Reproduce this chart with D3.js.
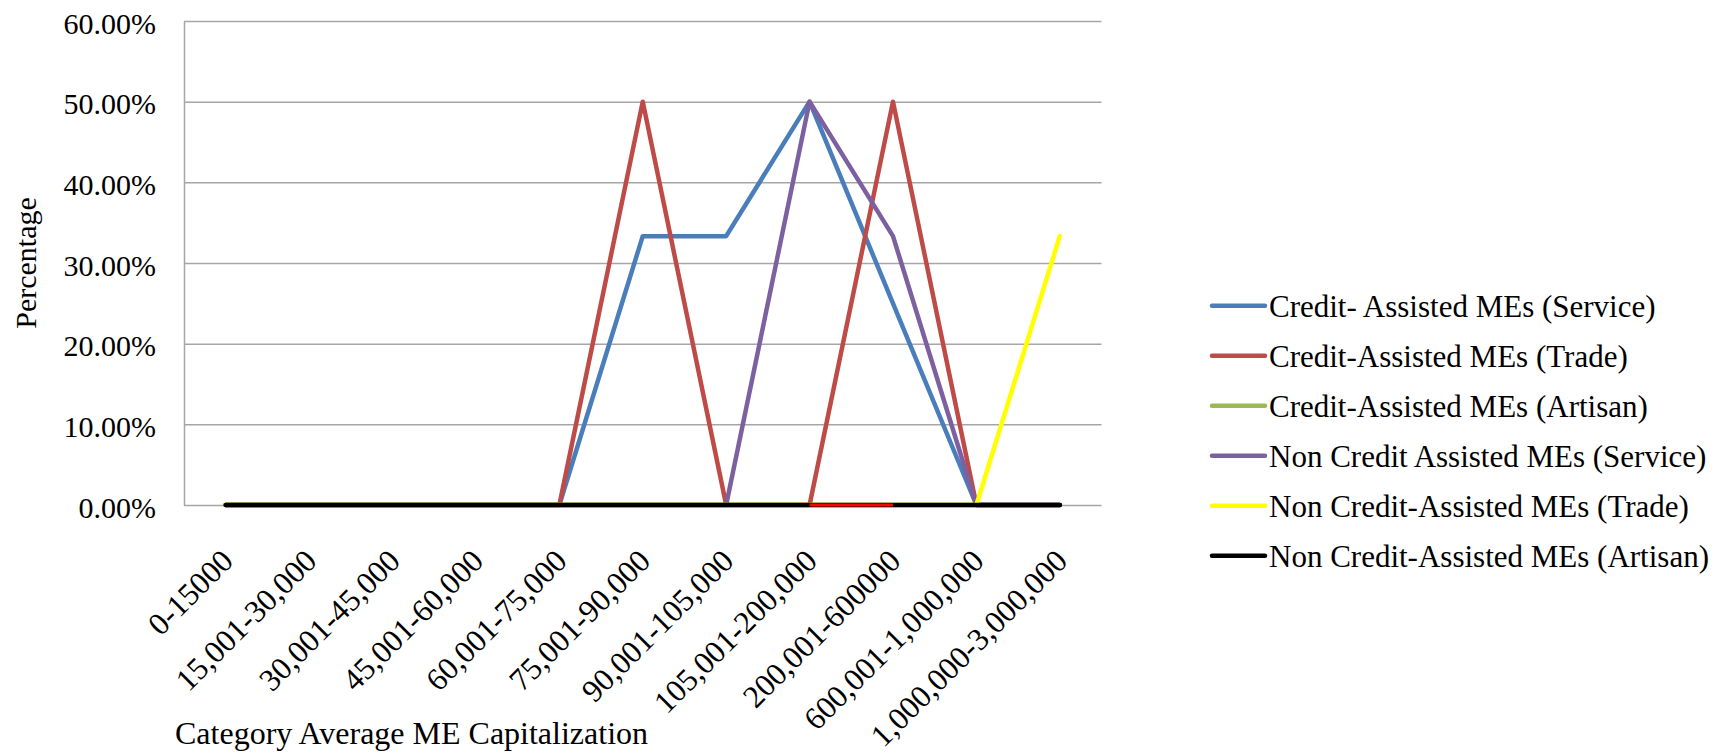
<!DOCTYPE html>
<html>
<head>
<meta charset="utf-8">
<script src="https://cdn.jsdelivr.net/npm/d3@7"></script>
<style>
  html, body { margin: 0; padding: 0; background: #ffffff; }
  svg { display: block; }
  text { font-family: "Liberation Serif", "Times New Roman", serif; fill: #000; }
</style>
</head>
<body>
<svg id="chart" width="1731" height="754"></svg>
<script>
// ---------- data ----------
const categories = [
  "0-15000", "15,001-30,000", "30,001-45,000", "45,001-60,000",
  "60,001-75,000", "75,001-90,000", "90,001-105,000", "105,001-200,000",
  "200,001-600000", "600,001-1,000,000", "1,000,000-3,000,000"
];
const seriesNames = [
  "Credit- Assisted MEs (Service)",
  "Credit-Assisted MEs (Trade)",
  "Credit-Assisted MEs (Artisan)",
  "Non Credit Assisted MEs (Service)",
  "Non Credit-Assisted MEs (Trade)",
  "Non Credit-Assisted MEs (Artisan)"
];
const seriesColors = ["#4a7ebb", "#be4b48", "#98b954", "#7d60a0", "#ffff00", "#000000"];
const creditService    = [0, 0, 0, 0, 0, 33.33, 33.33, 50, 25, 0, 0];
const creditTrade      = [0, 0, 0, 0, 0, 50, 0, 0, 50, 0, 0];
const creditArtisan    = [0, 0, 0, 0, 0, 0, 0, 0, 0, 0, 0];
const nonCreditService = [0, 0, 0, 0, 0, 0, 0, 50, 33.33, 0, 0];
const nonCreditTrade   = [0, 0, 0, 0, 0, 0, 0, 0, 0, 0, 33.33];
const nonCreditArtisan = [0, 0, 0, 0, 0, 0, 0, 0, 0, 0, 0];
// segment of the last series drawn in bright red in the original
const highlightSegment = ["105,001-200,000", "200,001-600000"];
const highlightColor = "#ff0000";
const yTicks = [0, 10, 20, 30, 40, 50, 60];
const yTitle = "Percentage";
const xTitle = "Category Average ME Capitalization";

const seriesValues = [creditService, creditTrade, creditArtisan, nonCreditService, nonCreditTrade, nonCreditArtisan];

// ---------- layout ----------
const svg = d3.select("#chart");
svg.append("rect").attr("width", 1731).attr("height", 754).attr("fill", "#fff");

const plot = { left: 184, right: 1101.5, top: 21, bottom: 505 };

const x = d3.scalePoint().domain(categories).range([plot.left, plot.right]).padding(0.5);
const y = d3.scaleLinear().domain([0, 60]).range([plot.bottom, plot.top]);

// gridlines + y axis
const yAxis = d3.axisLeft(y)
  .tickValues(yTicks)
  .tickSizeInner(-(plot.right - plot.left))
  .tickSizeOuter(0)
  .tickPadding(28)
  .tickFormat(d => d.toFixed(2) + "%");

const gy = svg.append("g").attr("transform", `translate(${plot.left},0)`).call(yAxis);
gy.select(".domain").attr("stroke", "#a6a6a6").attr("stroke-width", 1.5);
gy.selectAll(".tick line").attr("stroke", "#a6a6a6").attr("stroke-width", 1.5);
gy.selectAll(".tick text")
  .attr("font-size", 30)
  .attr("dy", "0.4em");

// x tick labels (rotated)
const xAxis = d3.axisBottom(x).tickSize(0).tickPadding(0);
const gx = svg.append("g").attr("transform", `translate(0,${plot.bottom})`).call(xAxis);
gx.select(".domain").remove();
gx.selectAll(".tick text")
  .attr("font-size", 31.5)
  .attr("text-anchor", "end")
  .attr("y", 0)
  .attr("dy", "0.35em")
  .attr("transform", "translate(1,50) rotate(-45)");

// lines
const line = d3.line()
  .x((d, i) => x(categories[i]))
  .y(d => y(d));

const gLines = svg.append("g");
seriesValues.forEach((vals, si) => {
  gLines.append("path")
    .attr("d", line(vals))
    .attr("fill", "none")
    .attr("stroke", seriesColors[si])
    .attr("stroke-width", si === seriesValues.length - 1 ? 4.7 : 4.5)
    .attr("stroke-linejoin", "round")
    .attr("stroke-linecap", "round");
});
// highlighted segment of last series
const hi0 = categories.indexOf(highlightSegment[0]);
const hi1 = categories.indexOf(highlightSegment[1]);
gLines.append("path")
  .attr("d", d3.line().x(d => x(d[0])).y(d => y(d[1]))([
    [categories[hi0], nonCreditArtisan[hi0]],
    [categories[hi1], nonCreditArtisan[hi1]]
  ]))
  .attr("fill", "none")
  .attr("stroke", highlightColor)
  .attr("stroke-width", 3);

// axis titles
svg.append("text")
  .attr("transform", `translate(36,${(plot.top + plot.bottom) / 2}) rotate(-90)`)
  .attr("text-anchor", "middle")
  .attr("font-size", 30)
  .text(yTitle);

svg.append("text")
  .attr("x", 175)
  .attr("y", 744)
  .attr("font-size", 32)
  .text(xTitle);

// legend
const legend = svg.append("g");
seriesNames.forEach((name, i) => {
  const ly = 305.7 + i * 50;
  legend.append("line")
    .attr("x1", 1212).attr("x2", 1265)
    .attr("y1", ly).attr("y2", ly)
    .attr("stroke", seriesColors[i])
    .attr("stroke-width", 4.5)
    .attr("stroke-linecap", "round");
  legend.append("text")
    .attr("x", 1269)
    .attr("y", ly)
    .attr("dy", "0.355em")
    .attr("font-size", 31)
    .text(name);
});
</script>
</body>
</html>
